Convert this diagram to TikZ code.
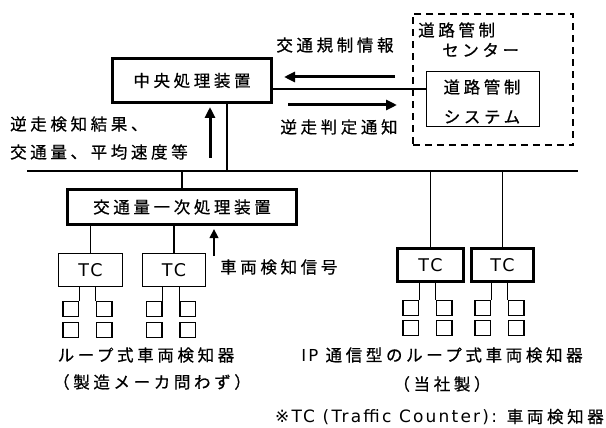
\documentclass[tikz,border=0pt]{standalone}
\usepackage{fontspec}
\newfontfamily\jpfont[LetterSpace=22,FakeBold=0.6]{Noto Sans CJK JP}
\newfontfamily\latfont[LetterSpace=13]{DejaVu Sans}
\usetikzlibrary{arrows.meta,calc}
\tikzset{
  txt/.style={font=\jpfont\fontsize{16.5pt}{19pt}\selectfont, inner sep=0pt},
  ltxt/.style={font=\latfont\fontsize{17.5pt}{19pt}\selectfont, inner sep=0pt},
  thickbox/.style={draw, line width=2.6pt, inner sep=0pt},
  thinbox/.style={draw, line width=1.3pt, inner sep=0pt},
  dashbox/.style={draw, line width=1.6pt, dash pattern=on 7pt off 5pt, inner sep=0pt},
  sqbox/.style={draw, line width=1.3pt, inner sep=0pt, minimum width=15.5pt, minimum height=14.5pt},
  wire/.style={line width=1.2pt},
  bigarrow/.style={line width=3pt, -{Triangle[length=11pt,width=10pt]}},
  smallarrow/.style={line width=2.6pt, -{Triangle[length=9pt,width=8.5pt]}},
}
\begin{document}
\begin{tikzpicture}[x=1pt,y=-1pt]
\useasboundingbox[fill=white] (0,0) rectangle (606,428);
% main boxes
\node[thickbox, txt, minimum width=159.5pt, minimum height=44.5pt] (cpu) at (192,80.5) {中央処理装置};
\node[thickbox, txt, minimum width=229.5pt, minimum height=35.5pt] (pre) at (182,207) {交通量一次処理装置};
\node[dashbox, minimum width=160.5pt, minimum height=131.5pt] (ctr) at (493,79.5) {};
\node[thinbox, minimum width=113pt, minimum height=55pt] (sys) at (483,99) {};
\node[txt] (sys1) at (482,87) {道路管制};
\node[txt] (sys2) at (482,117) {システム};
\node[txt, anchor=west] (ctr1) at (418,30) {道路管制};
\node[txt, anchor=west] (ctr2) at (442,50) {センター};
% TC boxes
\node[thinbox, ltxt, minimum width=64pt, minimum height=33pt] (tc1) at (90.5,270) {TC};
\node[thinbox, ltxt, minimum width=63pt, minimum height=33pt] (tc2) at (174,270) {TC};
\node[thickbox, ltxt, minimum width=66.5pt, minimum height=33.5pt] (tc3) at (430.5,265) {TC};
\node[thickbox, ltxt, minimum width=62.5pt, minimum height=33.5pt] (tc4) at (502.5,265) {TC};
% bus
\coordinate (busL) at (27,171);
\coordinate (busR) at (578,171);
\draw[wire] (busL) -- (busR);
\draw[wire] ([xshift=35pt]cpu.south) -- ([xshift=35pt]cpu.south |- busL);
\draw[wire] (pre.north) -- (pre.north |- busL);
\draw[wire] (tc3.north) -- (tc3.north |- busL);
\draw[wire] (tc4.north) -- (tc4.north |- busL);
\draw[wire] (tc1.north) -- (tc1.north |- pre.south);
\draw[wire] (tc2.north) -- (tc2.north |- pre.south);
\draw[wire] ([yshift=-8.5pt]cpu.east) -- ([yshift=-8.5pt]cpu.east -| sys.west);
% squares
\foreach \t/\g/\ya/\yb in {tc1/87.5/309/330, tc2/171/309/330, tc3/427.5/308/328, tc4/499.5/308/328}{
  \node[sqbox] (\t-a) at (\g-16.75,\ya) {};
  \node[sqbox] (\t-b) at (\g+16.75,\ya) {};
  \node[sqbox] (\t-c) at (\g-16.75,\yb) {};
  \node[sqbox] (\t-d) at (\g+16.75,\yb) {};
  \draw[wire] (\t.south -| \t-a.north east) -- (\t-a.north east);
  \draw[wire] (\t.south -| \t-b.north west) -- (\t-b.north west);
}
% arrows
\coordinate (a1s) at (395,77); \coordinate (a1e) at (284,77);
\coordinate (a2s) at (288,105); \coordinate (a2e) at (397,105);
\coordinate (a3s) at (210,158); \coordinate (a3e) at (210,107);
\coordinate (a4s) at (214,256); \coordinate (a4e) at (214,229);
\draw[bigarrow] (a1s) -- (a1e);
\draw[bigarrow] (a2s) -- (a2e);
\draw[bigarrow] (a3s) -- (a3e);
\draw[smallarrow] (a4s) -- (a4e);
% labels
\node[txt] (l1) at (335,45) {交通規制情報};
\node[txt] (l2) at (339,127) {逆走判定通知};
\node[txt, anchor=west] (l3) at (10,124) {逆走検知結果、};
\node[txt, anchor=west] (l4) at (10,152) {交通量、平均速度等};
\node[txt, anchor=west] (l5) at (220,267) {車両検知信号};
\node[txt] (l6) at (146,355) {ループ式車両検知器};
\node[txt] (l7) at (152,382) {（製造メーカ問わず）};
\node[txt] (l8) at (442,355) {{\latfont IP} 通信型のループ式車両検知器};
\node[txt] (l9) at (442,384) {（当社製）};
\node[txt, anchor=east] (l10) at (604,417) {{\latfont\fontsize{17pt}{19pt}\selectfont ※TC (Traffic Counter):} 車両検知器};
\end{tikzpicture}
\end{document}
